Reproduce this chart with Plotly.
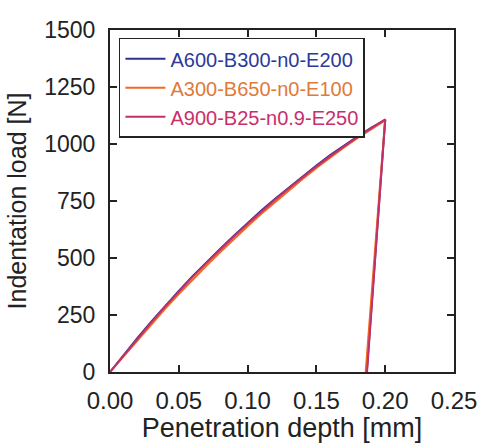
import plotly.graph_objects as go

# Loading curves (depth [mm], load [N])
depth_load = [0.00, 0.01, 0.02, 0.03, 0.04, 0.05, 0.06, 0.07, 0.08, 0.09, 0.10,
              0.11, 0.12, 0.13, 0.14, 0.15, 0.16, 0.17, 0.18, 0.19, 0.20]
load_blue = [0, 76, 150, 221, 290, 356, 420, 481, 540, 598, 654,
             708, 760, 810, 859, 906, 951, 994, 1034, 1072, 1106]
load_orange = [0, 70, 141, 210, 277, 342, 405, 466, 525, 583, 639,
               694, 746, 797, 847, 895, 941, 985, 1027, 1066, 1104]
load_purple = [0, 74, 147, 218, 287, 353, 417, 478, 537, 594, 650,
               704, 756, 806, 855, 902, 947, 990, 1031, 1070, 1108]

# Unloading curves
unload_depth_blue = [0.200, 0.1965, 0.1932, 0.1898, 0.1866]
unload_depth_orange = [0.200, 0.1962, 0.1927, 0.1892, 0.1858]
unload_depth_purple = [0.200, 0.1966, 0.1934, 0.1900, 0.1868]
unload_load_blue = [1106, 820, 545, 270, 0]
unload_load_orange = [1104, 818, 543, 268, 0]
unload_load_purple = [1108, 822, 547, 272, 0]

names = ["A600-B300-n0-E200", "A300-B650-n0-E100", "A900-B25-n0.9-E250"]
line_colors = ["#2e3192", "#f26a22", "#c0306a"]
text_colors = ["#2d3a9a", "#e07a3a", "#c8306a"]

x_ticks = [0.00, 0.05, 0.10, 0.15, 0.20, 0.25]
y_ticks = [0, 250, 500, 750, 1000, 1250, 1500]

series = [
    (load_blue, unload_depth_blue, unload_load_blue),
    (load_orange, unload_depth_orange, unload_load_orange),
    (load_purple, unload_depth_purple, unload_load_purple),
]

fig = go.Figure()
for i, (ld, ud, ul) in enumerate(series):
    xs = depth_load + ud[1:]
    ys = ld + ul[1:]
    fig.add_trace(go.Scatter(
        x=xs, y=ys, mode="lines",
        line=dict(color=line_colors[i], width=2),
        name=f'<span style="color:{text_colors[i]}">{names[i]}</span>',
    ))

axis_common = dict(
    showline=True, linecolor="#222222", linewidth=2, mirror="ticks",
    ticks="inside", ticklen=7, tickwidth=1.5, tickcolor="#222222",
    showgrid=False, zeroline=False, automargin=False,
    ticklabeloverflow="allow",
)

fig.update_layout(
    width=480, height=443,
    margin=dict(l=110, r=26, t=30, b=71),
    paper_bgcolor="white", plot_bgcolor="white",
    font=dict(family="Liberation Sans, Arial", color="#222222"),
    xaxis=dict(range=[0, 0.25], tickvals=x_ticks,
               ticktext=[f"{v:.2f}" for v in x_ticks],
               ticklabelstandoff=6,
               tickfont=dict(family="Liberation Sans, Arial", size=24, color="#222222"),
               title=dict(text="Penetration depth [mm]", standoff=10,
                          font=dict(size=27, color="#222222")),
               **axis_common),
    yaxis=dict(range=[0, 1500], tickvals=y_ticks,
               ticklabelstandoff=8,
               tickfont=dict(family="Liberation Sans, Arial", size=23, color="#222222"),
               title=dict(text="Indentation load [N]", standoff=10,
                          font=dict(size=25, color="#222222")),
               **axis_common),
    legend=dict(x=0.026, y=0.977, xanchor="left", yanchor="top",
                bgcolor="white", bordercolor="#222222", borderwidth=1.5,
                font=dict(family="Liberation Sans, Arial", size=20),
                tracegroupgap=0, itemwidth=40),
    showlegend=True,
)

fig.write_html(
    "out.html",
    config={"displayModeBar": False},
    post_script="document.body.style.margin='0';document.body.style.overflow='hidden';",
)
